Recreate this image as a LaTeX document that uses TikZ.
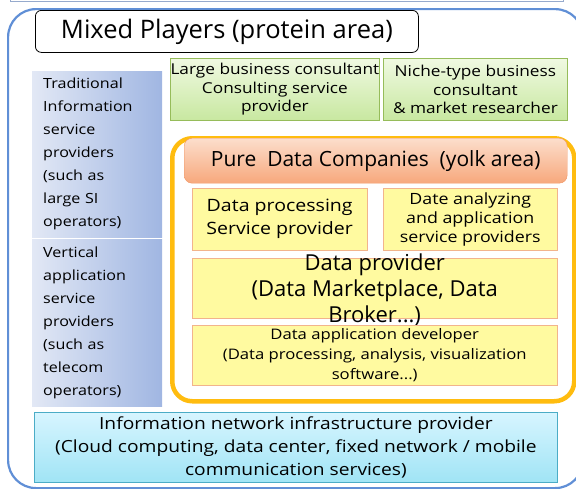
\documentclass[tikz,border=0pt]{standalone}
\usepackage{fontspec}
\setmainfont{Open Sans}
\newfontfamily\widefont[FakeStretch=1.15]{Open Sans}
\definecolor{cblue}{RGB}{96,143,214}
\definecolor{ctop}{RGB}{150,170,205}
\definecolor{ccolA}{RGB}{226,232,245}
\definecolor{ccolB}{RGB}{160,182,226}
\definecolor{cgreenA}{RGB}{240,249,226}
\definecolor{cgreenB}{RGB}{200,232,160}
\definecolor{cgreenD}{RGB}{150,188,90}
\definecolor{cyolk}{RGB}{255,188,15}
\definecolor{cpeachA}{RGB}{252,222,204}
\definecolor{cpeachB}{RGB}{247,168,124}
\definecolor{cpeachD}{RGB}{240,150,100}
\definecolor{cyellow}{RGB}{255,250,160}
\definecolor{cyellowD}{RGB}{242,180,140}
\definecolor{ccyanA}{RGB}{215,245,255}
\definecolor{ccyanB}{RGB}{160,228,245}
\definecolor{ccyanD}{RGB}{75,172,198}

\newcommand{\fs}[2]{\fontsize{#1}{#2}\selectfont}
\newcommand{\wfs}[2]{\widefont\fontsize{#1}{#2}\selectfont}

\begin{document}
\begin{tikzpicture}[x=1pt,y=-1pt,
    box/.style={rectangle, inner sep=0pt, anchor=north west, align=center},
    area/.style={box, draw=cblue, line width=2.2pt, rounded corners=28pt},
    title/.style={box, draw=black, thick, fill=white, rounded corners=6pt, font=\fs{25.5}{28}},
    column/.style={box, align=left, left color=ccolA, right color=ccolB,
        inner xsep=11pt, text width=108pt, font=\wfs{14}{23}},
    consult/.style={box, draw=cgreenD, thick, top color=cgreenA, bottom color=cgreenB,
        font=\wfs{15}{18.5}},
    yolk/.style={box, draw=cyolk, line width=4.5pt, rounded corners=20pt},
    header/.style={box, draw=cpeachD, top color=cpeachA, bottom color=cpeachB,
        rounded corners=8pt, font=\fs{21}{24}},
    pure/.style={box, draw=cyellowD, fill=cyellow},
    infra/.style={box, draw=ccyanD, thick, top color=ccyanA, bottom color=ccyanB,
        font=\wfs{16.7}{23}}]
  \clip (0,0) rectangle (576,488);

  % edge of the box above
  \draw[ctop, thick] (10,-20) rectangle (563,1);

  % protein area
  \node[area, minimum width=575pt, minimum height=479pt] (Protein) at (7,8) {};
  \node[title, minimum width=383pt, minimum height=42pt] (Mixed) at (35,10) {Mixed Players (protein area)};

  \node[column, minimum height=166pt] (Traditional) at (32,71)
    {Traditional\\Information\\service\\providers\\(such as\\large SI\\operators)};
  \node[column, minimum height=167pt] (Vertical) at (32,239)
    {Vertical\\application\\service\\providers\\(such as\\telecom\\operators)};

  \node[consult, minimum width=209pt, minimum height=62pt] (Large) at (170,58)
    {Large business consultant\\Consulting service\\provider};
  \node[consult, minimum width=184pt, minimum height=62pt] (Niche) at (383,58)
    {Niche-type business\\consultant\\\& market researcher};

  % yolk area
  \node[yolk, minimum width=402pt, minimum height=263pt] (Yolk) at (170,136) {};
  \node[header, minimum width=383pt, minimum height=45pt] (Pure) at (184,138)
    {Pure\ \ Data Companies\ \ (yolk area)};

  \node[pure, minimum width=175pt, minimum height=62pt, font=\wfs{17}{23}] (Processing) at (192,188)
    {Data processing\\Service provider};
  \node[pure, minimum width=174pt, minimum height=62pt, font=\wfs{15.5}{19}] (Analyzing) at (383,188)
    {Date analyzing\\and application\\service providers};
  \node[pure, minimum width=365pt, minimum height=60pt] (Provider) at (192,258) {};
  \node[align=center, inner sep=0pt, font=\fs{22}{26}] (ProviderText) at ([yshift=-2pt]Provider.center)
    {Data provider\\(Data Marketplace, Data\\Broker...)};
  \node[pure, minimum width=365pt, minimum height=60pt, font=\wfs{14.5}{20}] (Developer) at (192,325)
    {Data application developer\\(Data processing, analysis, visualization\\software...)};

  \node[infra, minimum width=523pt, minimum height=70pt] (Infra) at (34,412)
    {Information network infrastructure provider\\(Cloud computing, data center, fixed network / mobile\\communication services)};
\end{tikzpicture}
\end{document}
